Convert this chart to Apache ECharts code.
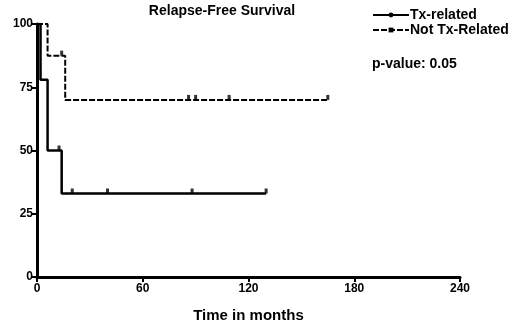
<!DOCTYPE html>
<html><head><meta charset="utf-8">
<script src="https://cdn.jsdelivr.net/npm/echarts@6/dist/echarts.min.js"></script>
<style>html,body{margin:0;padding:0;background:#fff}#c{width:520px;height:328px}</style>
</head><body><div id="c"></div>
<script>
// Kaplan-Meier step points [months, % survival]
const txRelated = [[0,100],[2,78],[6,50],[14,33],[130,33]];
const notTxRelated = [[0,100],[6,87.5],[16,70],[165,70]];
// censor marks
const txCensor = [[12.5,50],[20,33],[40,33],[88,33],[130,33]];
const notTxCensor = [[14,87.5],[86,70],[90,70],[109,70],[165,70]];
const xTicks = [0,60,120,180,240];
const yTicks = [0,25,50,75,100];
const titleText = 'Relapse-Free Survival';
const pText = 'p-value: 0.05';

const F = 'Liberation Sans, Arial, sans-serif';
const chart = echarts.init(document.getElementById('c'));
chart.setOption({
  animation:false,
  title:{text:titleText,left:217,top:-1,textAlign:'center',textStyle:{fontFamily:F,fontSize:14,fontWeight:'bold',color:'#000'}},
  legend:{left:367,top:3,orient:'vertical',itemWidth:36,itemHeight:6,itemGap:1,
    textStyle:{fontFamily:F,fontSize:14,fontWeight:'bold',color:'#000',padding:[0,0,0,-4]},
    data:['Tx-related','Not Tx-Related']},
  graphic:[{type:'text',left:372,top:57,style:{text:pText,font:'bold 14px '+F,fill:'#000'}}],
  grid:{left:37,right:60,top:24,bottom:48},
  xAxis:{type:'value',min:0,max:240,interval:60,
    name:'Time in months',nameLocation:'middle',nameGap:31,
    nameTextStyle:{fontFamily:F,fontSize:15,fontWeight:'bold',color:'#000'},
    axisLine:{lineStyle:{color:'#000',width:3}},
    axisTick:{lineStyle:{color:'#000',width:2},length:5},
    axisLabel:{fontFamily:F,fontSize:12,fontWeight:'bold',color:'#000',margin:6},
    splitLine:{show:false}},
  yAxis:{type:'value',min:0,max:100,interval:25,
    axisLine:{show:true,lineStyle:{color:'#000',width:3}},
    axisTick:{show:true,lineStyle:{color:'#000',width:2},length:5},
    axisLabel:{fontFamily:F,fontSize:12,fontWeight:'bold',color:'#000',margin:4},
    splitLine:{show:false}},
  series:[
    {name:'Tx-related',type:'line',step:'end',data:txRelated,symbol:'circle',symbolSize:5,showSymbol:false,
      lineStyle:{color:'#000',width:2.5},itemStyle:{color:'#000'}},
    {name:'Not Tx-Related',type:'line',step:'end',data:notTxRelated,symbol:'rect',symbolSize:[2,6],showSymbol:false,
      lineStyle:{color:'#000',width:2,type:[6,2]},itemStyle:{color:'#000'}},
    {name:'txc',type:'scatter',data:txCensor,symbol:'rect',symbolSize:[3,5],symbolOffset:[0,-2.5],itemStyle:{color:'#000'}},
    {name:'ntc',type:'scatter',data:notTxCensor,symbol:'rect',symbolSize:[3,5],symbolOffset:[0,-2.5],itemStyle:{color:'#000'}}
  ]
});
</script></body></html>
